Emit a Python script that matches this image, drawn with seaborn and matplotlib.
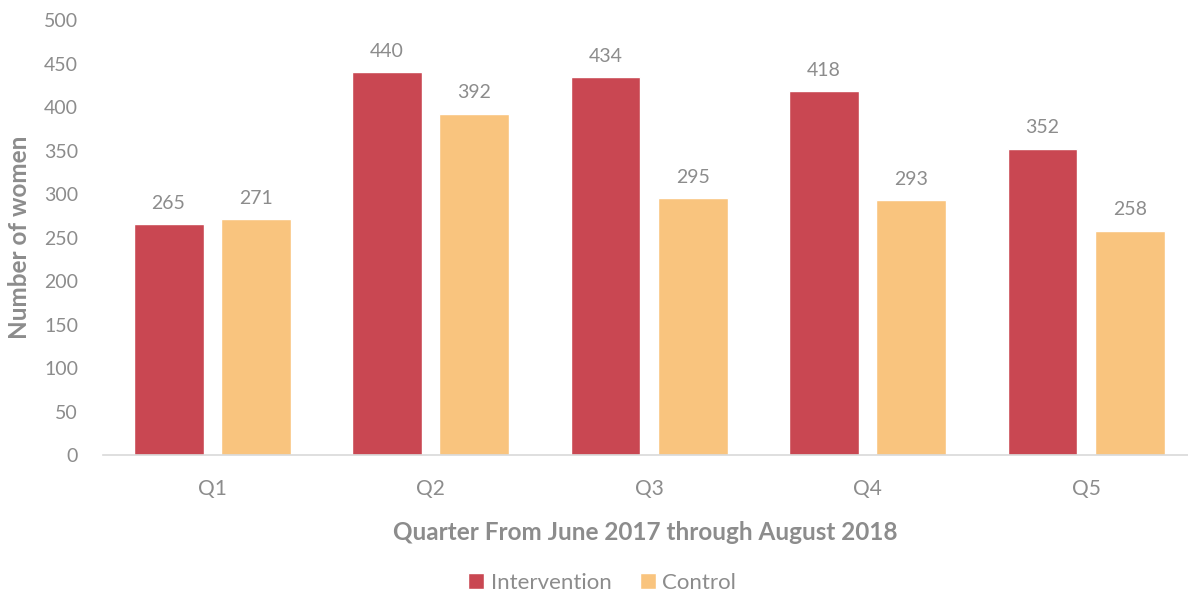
import pandas as pd
import seaborn as sns
import matplotlib.pyplot as plt

quarters = ["Q1", "Q2", "Q3", "Q4", "Q5"]
intervention = [265, 440, 434, 418, 352]
control = [271, 392, 295, 293, 258]

groups = ["Intervention", "Control"]
colors = ["#C94752", "#F9C47E"]
text_gray = "#8C8C8C"

df = pd.DataFrame({
    "quarter": quarters * 2,
    "group": [groups[0]] * len(quarters) + [groups[1]] * len(quarters),
    "women": intervention + control,
})

sns.set_style("white")
plt.rcParams["font.family"] = ["Lato", "DejaVu Sans"]

fig = plt.figure(figsize=(11.88, 6.01), dpi=100)
ax = fig.add_axes([0.0867, 0.2429, 0.9133, 0.7238])

sns.barplot(data=df, x="quarter", y="women", hue="group", palette=colors,
            hue_order=groups, order=quarters, width=0.8, gap=0.2,
            saturation=1, ax=ax, legend=True)

for c in ax.containers:
    ax.bar_label(c, padding=9, fontsize=14, color=text_gray)

ax.set_ylim(0, 500)
ax.set_xlim(-0.5, 4.466)
ax.set_yticks(range(0, 501, 50))
ax.tick_params(axis="both", colors=text_gray, labelsize=14, length=0)
ax.tick_params(axis="x", labelsize=15, pad=17)
ax.tick_params(axis="y", pad=18)

for s in ["top", "right", "left"]:
    ax.spines[s].set_visible(False)
ax.spines["bottom"].set_color("#D9D9D9")
ax.spines["bottom"].set_linewidth(1.2)

ax.set_xlabel("Quarter From June 2017 through August 2018", fontsize=17.5,
              fontweight="bold", color=text_gray, labelpad=16)
ax.set_ylabel("Number of women", fontsize=17.5, fontweight="bold",
              color=text_gray)
ax.yaxis.set_label_coords(-0.0665, 0.5)

handles, labels = ax.get_legend_handles_labels()
ax.get_legend().remove()
fig.legend(handles, labels, loc="lower center", bbox_to_anchor=(0.507, -0.012),
           ncol=2, frameon=False, fontsize=16, handlelength=0.7,
           handleheight=0.7, handletextpad=0.3, columnspacing=1.3,
           labelcolor=text_gray, borderaxespad=0.3)

fig.savefig("out.png", dpi=100)
